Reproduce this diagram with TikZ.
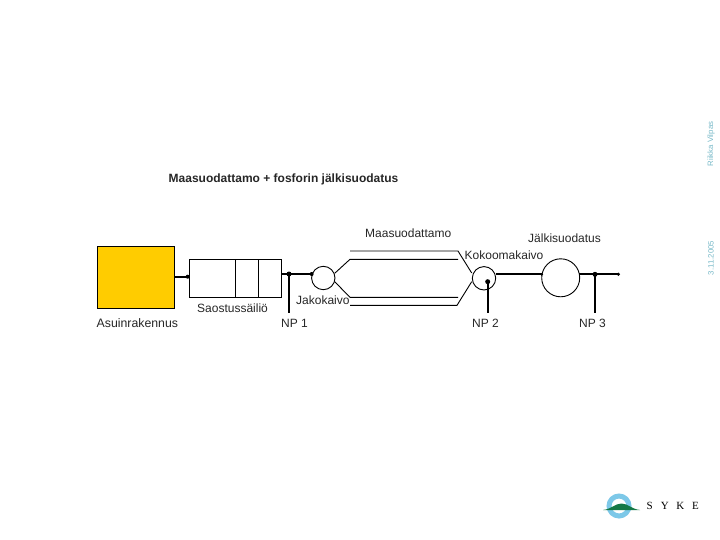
\documentclass[tikz,border=0pt]{standalone}
\usepackage{fontspec}
\setmainfont{Liberation Sans}
\newfontfamily\sykefont{Liberation Serif}
\definecolor{houseyellow}{RGB}{255,204,0}
\definecolor{sidegrey}{RGB}{120,185,200}
\definecolor{ringblue}{RGB}{125,200,232}
\definecolor{hillgreen}{RGB}{20,120,70}
\tikzset{
  lab/.style={inner sep=0pt,font=\fontsize{12}{14}\selectfont,text=black!85},
  side/.style={inner sep=0pt,font=\fontsize{7.8}{9}\selectfont,text=sidegrey,rotate=90},
  thin line/.style={draw=black,line width=0.9pt},
  pipe/.style={draw=black,line width=1.8pt},
  well/.style={circle,draw=black,line width=0.9pt,inner sep=0pt,fill=white},
  dot/.style={circle,fill=black,inner sep=0pt,minimum size=5pt},
}
\begin{document}
\begin{tikzpicture}[x=1pt,y=-1pt]
\useasboundingbox (0,0) rectangle (720,540);
% title
\node[lab,anchor=west,font=\fontsize{12}{14}\selectfont\bfseries] (title) at (168.5,179) {Maasuodattamo + fosforin jälkisuodatus};
% side texts
\node[side] (author) at (711,144) {Riikka Vilpas};
\node[side] (date) at (711,258) {3.11.2005};
% main shapes
\node[draw=black,line width=0.9pt,fill=houseyellow,minimum width=77pt,minimum height=62pt,inner sep=0pt] (house) at (135.8,277.3) {};
\node[thin line,minimum width=92.4pt,minimum height=38pt,inner sep=0pt] (tank) at (235.5,278.3) {};
\coordinate (d1t) at (235.3,259.3); \coordinate (d1b) at (235.3,297.3);
\coordinate (d2t) at (258.3,259.3); \coordinate (d2b) at (258.3,297.3);
\draw[thin line] (d1t) -- (d1b);
\draw[thin line] (d2t) -- (d2b);
\node[well,minimum size=23.4pt] (jako) at (323.3,278) {};
\node[well,minimum size=23.4pt] (koko) at (484,278.3) {};
\node[well,minimum size=38pt] (jalki) at (560.7,277.8) {};
% filter lines
\coordinate (jr1) at (334.7,273.3); \coordinate (jr2) at (334.7,281.7);
\coordinate (kl1) at (471.7,273); \coordinate (kl2) at (471.7,281.7);
\coordinate (a1) at (350,251); \coordinate (a2) at (458,251);
\coordinate (b1) at (350,259.3); \coordinate (b2) at (458,259.3);
\coordinate (c1) at (350,297.3); \coordinate (c2) at (458,297.3);
\coordinate (e1) at (350,305.3); \coordinate (e2) at (457,305.3);
\draw[thin line] (a1) -- (a2) -- (kl1);
\draw[thin line] (jr1) -- (b1) -- (b2);
\draw[thin line] (jr2) -- (c1) -- (c2);
\draw[thin line] (e1) -- (e2) -- (kl2);
% pipes
\coordinate (h0) at (174.3,276.7); \coordinate (h1) at (187.7,276.7);
\coordinate (t0) at (281.7,274); \coordinate (t1) at (311.7,274);
\coordinate (k0) at (496,274.3); \coordinate (k1) at (541.7,274.3);
\coordinate (j0) at (579.3,274.3); \coordinate (j1) at (618.3,274.3);
\coordinate (n1a) at (289,274); \coordinate (n1b) at (289,313);
\coordinate (n2a) at (487.7,281.7); \coordinate (n2b) at (487.7,313);
\coordinate (n3a) at (595,274.3); \coordinate (n3b) at (595,313);
\draw[pipe] (h0) -- (h1);
\draw[pipe] (t0) -- (t1);
\draw[pipe] (k0) -- (k1);
\draw[pipe] (j0) -- (j1);
\draw[pipe] (n1a) -- (n1b);
\draw[pipe] (n2a) -- (n2b);
\draw[pipe] (n3a) -- (n3b);
\node[dot] (dn1) at (n1a) {};
\node[dot] (dn2) at (n2a) {};
\node[dot] (dn3) at (n3a) {};
\node[dot,minimum size=4pt] (dh) at (h1) {};
\node[dot,minimum size=4pt] (dt) at (t1) {};
\node[dot,minimum size=3pt] (dk) at (k1) {};
\node[dot,minimum size=3.5pt] (dj) at (j1) {};
% labels
\node[lab,anchor=west,font=\fontsize{12.3}{14}\selectfont] (l1) at (96.5,323) {Asuinrakennus};
\node[lab,anchor=west] (l2) at (197,308.5) {Saostussäiliö};
\node[lab,anchor=west] (l3) at (296,300.5) {Jakokaivo};
\node[lab,anchor=west] (l4) at (281,323) {NP 1};
\node[lab,anchor=west] (l5) at (365,233) {Maasuodattamo};
\node[lab,anchor=west] (l6) at (528,238.5) {Jälkisuodatus};
\node[lab,anchor=west] (l7) at (464.5,255) {Kokoomakaivo};
\node[lab,anchor=west] (l8) at (472,323) {NP 2};
\node[lab,anchor=west] (l9) at (579,323) {NP 3};
% logo
\node[circle,draw=ringblue,line width=5pt,minimum size=20pt,inner sep=0pt] (ring) at (619,506) {};
\fill[hillgreen] (603,510) .. controls (612,509) and (615,503.5) .. (621.5,503.5) .. controls (628,503.5) and (631,509) .. (640,510) -- cycle;
\node[inner sep=0pt,anchor=west,font=\sykefont\fontsize{11}{13}\selectfont] (syke) at (646.5,506) {S\hspace{8pt}Y\hspace{7.5pt}K\hspace{8pt}E};
\end{tikzpicture}
\end{document}
